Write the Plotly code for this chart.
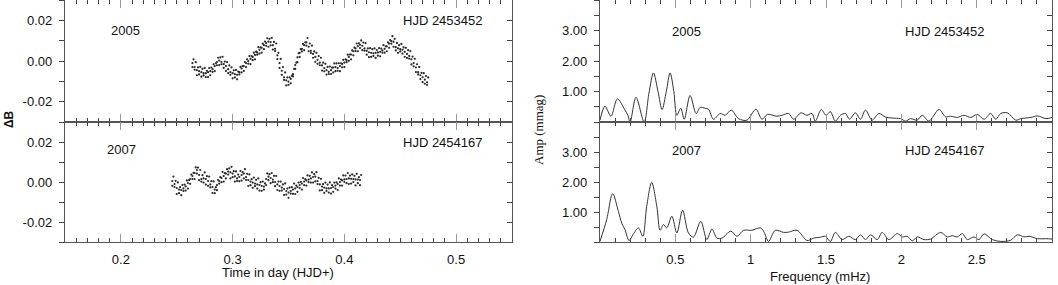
import plotly.graph_objects as go

# ---------------- data ----------------
# 2005 light curve (HJD 2453452): time (d), delta B (mag)
t_2005 = [0.264, 0.266, 0.268, 0.270, 0.272, 0.274, 0.276, 0.278, 0.280, 0.282,
          0.284, 0.286, 0.288, 0.290, 0.292, 0.294, 0.296, 0.298, 0.300, 0.302,
          0.304, 0.306, 0.308, 0.310, 0.312, 0.314, 0.316, 0.318, 0.320, 0.322,
          0.324, 0.326, 0.328, 0.330, 0.332, 0.334, 0.336, 0.338, 0.340, 0.342,
          0.344, 0.346, 0.348, 0.350, 0.352, 0.354, 0.356, 0.358, 0.360, 0.362,
          0.364, 0.366, 0.368, 0.370, 0.372, 0.374, 0.376, 0.378, 0.380, 0.382,
          0.384, 0.386, 0.388, 0.390, 0.392, 0.394, 0.396, 0.398, 0.400, 0.402,
          0.404, 0.406, 0.408, 0.410, 0.412, 0.414, 0.416, 0.418, 0.420, 0.422,
          0.424, 0.426, 0.428, 0.430, 0.432, 0.434, 0.436, 0.438, 0.440, 0.442,
          0.444, 0.446, 0.448, 0.450, 0.452, 0.454, 0.456, 0.458, 0.460, 0.462,
          0.464, 0.466, 0.468, 0.470, 0.472, 0.474]
t_2005_b = [0.265, 0.267, 0.269, 0.271, 0.273, 0.275, 0.277, 0.279, 0.281, 0.283,
            0.285, 0.287, 0.289, 0.291, 0.293, 0.295, 0.297, 0.299, 0.301, 0.303,
            0.305, 0.307, 0.309, 0.311, 0.313, 0.315, 0.317, 0.319, 0.321, 0.323,
            0.325, 0.327, 0.329, 0.331, 0.333, 0.335, 0.337, 0.339, 0.341, 0.343,
            0.345, 0.347, 0.349, 0.351, 0.353, 0.355, 0.357, 0.359, 0.361, 0.363,
            0.365, 0.367, 0.369, 0.371, 0.373, 0.375, 0.377, 0.379, 0.381, 0.383,
            0.385, 0.387, 0.389, 0.391, 0.393, 0.395, 0.397, 0.399, 0.401, 0.403,
            0.405, 0.407, 0.409, 0.411, 0.413, 0.415, 0.417, 0.419, 0.421, 0.423,
            0.425, 0.427, 0.429, 0.431, 0.433, 0.435, 0.437, 0.439, 0.441, 0.443,
            0.445, 0.447, 0.449, 0.451, 0.453, 0.455, 0.457, 0.459, 0.461, 0.463,
            0.465, 0.467, 0.469, 0.471, 0.473, 0.475]
db_2005_mid = [-0.0010, -0.0030, -0.0045, -0.0050, -0.0055, -0.0060, -0.0060, -0.0055, -0.0050, -0.0040,
               -0.0025, -0.0005, 0.0002, -0.0005, -0.0015, -0.0025, -0.0040, -0.0055, -0.0060, -0.0065,
               -0.0068, -0.0055, -0.0037, -0.0025, -0.0010, 0.0000, 0.0010, 0.0020, 0.0030, 0.0042,
               0.0055, 0.0065, 0.0078, 0.0088, 0.0095, 0.0093, 0.0078, 0.0060, 0.0028, -0.0010,
               -0.0048, -0.0080, -0.0095, -0.0101, -0.0088, -0.0065, -0.0020, 0.0018, 0.0040, 0.0060,
               0.0078, 0.0092, 0.0070, 0.0050, 0.0035, 0.0020, 0.0006, -0.0008, -0.0022, -0.0035,
               -0.0045, -0.0053, -0.0045, -0.0032, -0.0030, -0.0035, -0.0025, -0.0015, -0.0008, 0.0005,
               0.0020, 0.0032, 0.0048, 0.0062, 0.0073, 0.0080, 0.0075, 0.0062, 0.0050, 0.0043,
               0.0040, 0.0038, 0.0040, 0.0042, 0.0045, 0.0052, 0.0060, 0.0072, 0.0085, 0.0098,
               0.0095, 0.0068, 0.0062, 0.0058, 0.0055, 0.0045, 0.0035, 0.0025, 0.0008, -0.0010,
               -0.0032, -0.0055, -0.0070, -0.0080, -0.0092, -0.0105]
db_2005_up = [0.0008, -0.0006, -0.0031, -0.0029, -0.0039, -0.0034, -0.0048, -0.0035, -0.0032, -0.0016,
              -0.0011, 0.0016, 0.0018, 0.0021, -0.0003, -0.0005, -0.0022, -0.0031, -0.0046, -0.0044,
              -0.0052, -0.0029, -0.0025, -0.0005, 0.0008, 0.0024, 0.0024, 0.0041, 0.0046, 0.0068,
              0.0067, 0.0085, 0.0096, 0.0112, 0.0109, 0.0114, 0.0094, 0.0086, 0.0040, 0.0010,
              -0.0030, -0.0056, -0.0081, -0.0080, -0.0072, -0.0039, -0.0008, 0.0038, 0.0058, 0.0084,
              0.0092, 0.0113, 0.0086, 0.0076, 0.0047, 0.0040, 0.0024, 0.0016, -0.0008, -0.0014,
              -0.0029, -0.0027, -0.0033, -0.0012, -0.0012, -0.0011, -0.0011, 0.0006, 0.0008, 0.0031,
              0.0032, 0.0052, 0.0066, 0.0086, 0.0087, 0.0101, 0.0091, 0.0088, 0.0062, 0.0063,
              0.0058, 0.0062, 0.0054, 0.0063, 0.0061, 0.0078, 0.0072, 0.0092, 0.0103, 0.0122,
              0.0109, 0.0089, 0.0078, 0.0084, 0.0067, 0.0065, 0.0053, 0.0049, 0.0022, 0.0011,
              -0.0016, -0.0029, -0.0058, -0.0060, -0.0074, -0.0081]
db_2005_dn = [-0.0030, -0.0043, -0.0070, -0.0066, -0.0077, -0.0071, -0.0079, -0.0079, -0.0070, -0.0053,
              -0.0050, -0.0021, -0.0020, -0.0016, -0.0034, -0.0049, -0.0060, -0.0068, -0.0085, -0.0081,
              -0.0090, -0.0066, -0.0056, -0.0049, -0.0030, -0.0013, -0.0015, 0.0004, 0.0008, 0.0031,
              0.0036, 0.0041, 0.0058, 0.0075, 0.0070, 0.0077, 0.0056, 0.0049, 0.0009, -0.0034,
              -0.0068, -0.0093, -0.0120, -0.0117, -0.0110, -0.0076, -0.0039, -0.0006, 0.0020, 0.0047,
              0.0053, 0.0076, 0.0048, 0.0039, 0.0016, -0.0004, -0.0014, -0.0021, -0.0047, -0.0051,
              -0.0067, -0.0064, -0.0064, -0.0056, -0.0050, -0.0048, -0.0050, -0.0031, -0.0030, -0.0006,
              0.0001, 0.0008, 0.0028, 0.0049, 0.0048, 0.0064, 0.0053, 0.0051, 0.0031, 0.0019,
              0.0020, 0.0025, 0.0015, 0.0026, 0.0023, 0.0041, 0.0041, 0.0048, 0.0065, 0.0085,
              0.0070, 0.0052, 0.0040, 0.0047, 0.0036, 0.0021, 0.0015, 0.0012, -0.0017, -0.0026,
              -0.0054, -0.0066, -0.0089, -0.0104, -0.0112, -0.0118]

# 2007 light curve (HJD 2454167)
t_2007 = [0.246, 0.248, 0.250, 0.252, 0.254, 0.256, 0.258, 0.260, 0.262, 0.264,
          0.266, 0.268, 0.270, 0.272, 0.274, 0.276, 0.278, 0.280, 0.282, 0.284,
          0.286, 0.288, 0.290, 0.292, 0.294, 0.296, 0.298, 0.300, 0.302, 0.304,
          0.306, 0.308, 0.310, 0.312, 0.314, 0.316, 0.318, 0.320, 0.322, 0.324,
          0.326, 0.328, 0.330, 0.332, 0.334, 0.336, 0.338, 0.340, 0.342, 0.344,
          0.346, 0.348, 0.350, 0.352, 0.354, 0.356, 0.358, 0.360, 0.362, 0.364,
          0.366, 0.368, 0.370, 0.372, 0.374, 0.376, 0.378, 0.380, 0.382, 0.384,
          0.386, 0.388, 0.390, 0.392, 0.394, 0.396, 0.398, 0.400, 0.402, 0.404,
          0.406, 0.408, 0.410, 0.412, 0.414]
t_2007_b = [0.247, 0.249, 0.251, 0.253, 0.255, 0.257, 0.259, 0.261, 0.263, 0.265,
            0.267, 0.269, 0.271, 0.273, 0.275, 0.277, 0.279, 0.281, 0.283, 0.285,
            0.287, 0.289, 0.291, 0.293, 0.295, 0.297, 0.299, 0.301, 0.303, 0.305,
            0.307, 0.309, 0.311, 0.313, 0.315, 0.317, 0.319, 0.321, 0.323, 0.325,
            0.327, 0.329, 0.331, 0.333, 0.335, 0.337, 0.339, 0.341, 0.343, 0.345,
            0.347, 0.349, 0.351, 0.353, 0.355, 0.357, 0.359, 0.361, 0.363, 0.365,
            0.367, 0.369, 0.371, 0.373, 0.375, 0.377, 0.379, 0.381, 0.383, 0.385,
            0.387, 0.389, 0.391, 0.393, 0.395, 0.397, 0.399, 0.401, 0.403, 0.405,
            0.407, 0.409, 0.411, 0.413, 0.415]
db_2007_mid = [0.0005, -0.0010, -0.0030, -0.0038, -0.0040, -0.0032, -0.0022, -0.0005, 0.0015, 0.0030,
               0.0045, 0.0060, 0.0035, 0.0015, 0.0018, 0.0015, 0.0005, -0.0012, -0.0025, -0.0038,
               -0.0015, 0.0005, 0.0020, 0.0030, 0.0042, 0.0052, 0.0048, 0.0042, 0.0028, 0.0018,
               0.0025, 0.0035, 0.0042, 0.0025, 0.0010, 0.0002, -0.0003, -0.0008, -0.0012, -0.0015,
               -0.0020, -0.0023, 0.0015, 0.0027, 0.0020, 0.0012, 0.0000, -0.0012, -0.0020, -0.0028,
               -0.0035, -0.0045, -0.0053, -0.0045, -0.0038, -0.0032, -0.0025, -0.0015, -0.0008, 0.0002,
               0.0008, 0.0012, 0.0018, 0.0025, 0.0027, 0.0005, -0.0012, -0.0023, -0.0028, -0.0032,
               -0.0032, -0.0030, -0.0025, -0.0018, -0.0010, 0.0000, 0.0008, 0.0013, 0.0015, 0.0018,
               0.0016, 0.0015, 0.0013, 0.0012, 0.0010]
db_2007_up = [0.0027, 0.0006, -0.0002, -0.0026, -0.0015, -0.0013, 0.0008, 0.0009, 0.0037, 0.0046,
              0.0073, 0.0072, 0.0060, 0.0034, 0.0048, 0.0029, 0.0027, 0.0004, 0.0003, -0.0026,
              0.0010, 0.0024, 0.0050, 0.0044, 0.0064, 0.0068, 0.0076, 0.0054, 0.0053, 0.0037,
              0.0055, 0.0049, 0.0064, 0.0041, 0.0038, 0.0014, 0.0022, 0.0011, 0.0018, -0.0001,
              0.0002, -0.0007, 0.0043, 0.0039, 0.0045, 0.0031, 0.0030, 0.0002, 0.0002, -0.0012,
              -0.0007, -0.0033, -0.0028, -0.0026, -0.0008, -0.0018, -0.0003, 0.0001, 0.0020, 0.0014,
              0.0033, 0.0031, 0.0048, 0.0039, 0.0049, 0.0021, 0.0016, -0.0011, -0.0003, -0.0013,
              -0.0002, -0.0016, -0.0003, -0.0002, 0.0018, 0.0012, 0.0033, 0.0032, 0.0045, 0.0032,
              0.0038, 0.0031, 0.0041, 0.0024, 0.0035]
db_2007_dn = [-0.0019, -0.0025, -0.0060, -0.0056, -0.0066, -0.0045, -0.0043, -0.0033, -0.0009, 0.0015,
              0.0015, 0.0042, 0.0009, 0.0002, -0.0003, -0.0013, -0.0019, -0.0027, -0.0055, -0.0056,
              -0.0041, -0.0008, -0.0001, 0.0002, 0.0018, 0.0037, 0.0018, 0.0024, 0.0002, 0.0005,
              0.0004, 0.0007, 0.0018, 0.0010, -0.0020, -0.0016, -0.0029, -0.0021, -0.0033, -0.0043,
              -0.0044, -0.0038, -0.0015, 0.0009, -0.0006, -0.0001, -0.0021, -0.0040, -0.0044, -0.0043,
              -0.0065, -0.0063, -0.0079, -0.0058, -0.0059, -0.0060, -0.0049, -0.0030, -0.0038, -0.0016,
              -0.0018, -0.0001, -0.0003, -0.0003, 0.0003, -0.0010, -0.0042, -0.0041, -0.0054, -0.0045,
              -0.0053, -0.0058, -0.0049, -0.0033, -0.0040, -0.0018, -0.0018, 0.0000, -0.0006, -0.0010,
              -0.0008, 0.0000, -0.0017, -0.0006, -0.0016]

# amplitude spectra: frequency (mHz), amplitude (mmag)
f_2005 = [0, 0.033, 0.073, 0.115, 0.166, 0.185, 0.2, 0.239, 0.293, 0.325,
          0.355, 0.385, 0.412, 0.44, 0.465, 0.49, 0.51, 0.536, 0.559, 0.598,
          0.638, 0.665, 0.698, 0.72, 0.753, 0.798, 0.831, 0.871, 0.92, 0.975,
          1.035, 1.075, 1.112, 1.174, 1.208, 1.252, 1.285, 1.334, 1.374, 1.407,
          1.429, 1.469, 1.5, 1.529, 1.562, 1.596, 1.629, 1.656, 1.695, 1.729,
          1.762, 1.806, 1.851, 1.895, 1.939, 1.995, 2.028, 2.061, 2.105, 2.139,
          2.183, 2.25, 2.294, 2.327, 2.371, 2.416, 2.46, 2.504, 2.549, 2.593,
          2.626, 2.66, 2.704, 2.76, 2.793, 2.86, 2.904, 2.96, 3.0]
amp_2005 = [0.06, 0.52, 0.19, 0.76, 0.39, 0.22, 0.0, 0.81, 0.0, 0.95,
            1.61, 1.0, 0.41, 1.0, 1.61, 1.0, 0.22, 0.45, 0.09, 0.87,
            0.28, 0.48, 0.45, 0.42, 0.09, 0.28, 0.22, 0.39, 0.11, 0.06,
            0.42, 0.09, 0.25, 0.19, 0.22, 0.28, 0.09, 0.30, 0.22, 0.28,
            0.03, 0.41, 0.22, 0.34, 0.03, 0.22, 0.28, 0.09, 0.30, 0.09,
            0.39, 0.06, 0.28, 0.16, 0.13, 0.11, 0.03, 0.11, 0.06, 0.22,
            0.03, 0.41, 0.17, 0.19, 0.15, 0.22, 0.15, 0.25, 0.09, 0.28,
            0.09, 0.28, 0.30, 0.06, 0.11, 0.15, 0.20, 0.11, 0.15]
f_2007 = [0, 0.044, 0.084, 0.122, 0.144, 0.166, 0.193, 0.222, 0.255, 0.284,
          0.31, 0.343, 0.377, 0.399, 0.421, 0.443, 0.477, 0.51, 0.548, 0.587,
          0.62, 0.669, 0.709, 0.743, 0.776, 0.809, 0.869, 0.909, 0.953, 1.008,
          1.064, 1.086, 1.119, 1.163, 1.219, 1.252, 1.308, 1.374, 1.419, 1.463,
          1.496, 1.529, 1.562, 1.607, 1.651, 1.695, 1.729, 1.762, 1.795, 1.84,
          1.873, 1.917, 1.973, 2.006, 2.039, 2.073, 2.106, 2.15, 2.194, 2.261,
          2.305, 2.338, 2.371, 2.405, 2.438, 2.482, 2.515, 2.549, 2.604, 2.66,
          2.726, 2.77, 2.815, 2.848, 2.904, 2.959, 3.0]
amp_2007 = [0.02, 0.74, 1.61, 1.02, 0.63, 0.41, 0.05, 0.27, 0.47, 0.19,
            1.19, 1.99, 1.19, 0.39, 0.58, 0.47, 0.86, 0.30, 1.06, 0.30,
            0.16, 0.69, 0.08, 0.43, 0.13, 0.13, 0.36, 0.19, 0.39, 0.39,
            0.47, 0.36, 0.02, 0.39, 0.32, 0.33, 0.39, 0.05, 0.13, 0.16,
            0.19, 0.02, 0.32, 0.08, 0.19, 0.08, 0.24, 0.08, 0.24, 0.08,
            0.32, 0.08, 0.28, 0.17, 0.19, 0.04, 0.17, 0.08, 0.10, 0.32,
            0.17, 0.21, 0.17, 0.28, 0.08, 0.17, 0.08, 0.27, 0.08, 0.02,
            0.06, 0.24, 0.17, 0.19, 0.11, 0.11, 0.10]

# tick labels
lc_xticks = [0.2, 0.3, 0.4, 0.5]
lc_xtext = ["0.2", "0.3", "0.4", "0.5"]
lc_yticks = [-0.02, 0.0, 0.02]
lc_ytext = ["-0.02", "0.00", "0.02"]
sp_xticks = [0.5, 1, 1.5, 2, 2.5]
sp_xtext = ["0.5", "1", "1.5", "2", "2.5"]
sp_yticks = [1, 2, 3]
sp_ytext = ["1.00", "2.00", "3.00"]

# ---------------- figure ----------------
W, H = 1058, 285
SANS = "Liberation Sans, Arial, Helvetica, sans-serif"
SERIF = "Liberation Serif, Times New Roman, serif"
LINE = "#555555"
TICK = "#444444"
MAJ = "#999999"

def px(x):
    return x / W

def py(y):
    return 1 - y / H

XL = [px(65), px(512)]
XR = [px(600), px(1052)]
YT = [py(122), 1.0]
YB = [py(242), py(122)]

fig = go.Figure()
mk = dict(size=2.2, color="#2a2a2a")
for tt, yy in [(t_2005, db_2005_mid), (t_2005_b, db_2005_up), (t_2005, db_2005_dn)]:
    fig.add_trace(go.Scatter(x=tt, y=yy, mode="markers", marker=mk, xaxis="x", yaxis="y", showlegend=False))
for tt, yy in [(t_2007, db_2007_mid), (t_2007_b, db_2007_up), (t_2007, db_2007_dn)]:
    fig.add_trace(go.Scatter(x=tt, y=yy, mode="markers", marker=mk, xaxis="x2", yaxis="y2", showlegend=False))
ln = dict(color="#333333", width=1, shape="spline", smoothing=0.9)
fig.add_trace(go.Scatter(x=f_2005, y=amp_2005, mode="lines", line=ln, xaxis="x3", yaxis="y3", showlegend=False))
fig.add_trace(go.Scatter(x=f_2007, y=amp_2007, mode="lines", line=ln, xaxis="x4", yaxis="y4", showlegend=False))
# empty traces so the right-hand tick axes are drawn
for ax_x, ax_y in [("x", "y5"), ("x2", "y6"), ("x3", "y7"), ("x4", "y8")]:
    fig.add_trace(go.Scatter(x=[], y=[], xaxis=ax_x, yaxis=ax_y, showlegend=False))

tickfont = dict(family=SANS, size=13, color="#111111")

def xax(domain, anchor, rng, tv, tt, minor_dt, labels):
    return dict(domain=domain, anchor=anchor, range=rng, showgrid=False, zeroline=False,
                showline=True, linecolor=LINE, linewidth=1.3, mirror="ticks",
                ticks="inside", ticklen=8, tickwidth=1, tickcolor=MAJ,
                tickmode="array", tickvals=tv, ticktext=tt, showticklabels=labels,
                tickfont=tickfont, ticklabelstandoff=5, automargin=False,
                minor=dict(dtick=minor_dt, tick0=0, ticks="inside", ticklen=4,
                           tickcolor=TICK, tickwidth=1))

def yax(domain, anchor, rng, tv, tt, minor_dt):
    return dict(domain=domain, anchor=anchor, range=rng, showgrid=False, zeroline=False,
                showline=True, linecolor=LINE, linewidth=1.3, mirror=True,
                ticks="outside", ticklen=5, tickwidth=1, tickcolor=TICK,
                tickmode="array", tickvals=tv, ticktext=tt, tickfont=tickfont,
                ticklabelstandoff=4, automargin=False,
                minor=dict(dtick=minor_dt, tick0=0, ticks="outside", ticklen=5,
                           tickcolor=TICK, tickwidth=1))

def yright(over, anchor, rng, tv, minor_dt):
    return dict(overlaying=over, anchor=anchor, side="right", range=rng, showgrid=False,
                zeroline=False, showline=False, ticks="inside", ticklen=5, tickwidth=1,
                tickcolor=TICK, tickmode="array", tickvals=tv, showticklabels=False,
                automargin=False,
                minor=dict(dtick=minor_dt, tick0=0, ticks="inside", ticklen=5,
                           tickcolor=TICK, tickwidth=1))

LC_R = [-0.03, 0.03]
SP_R = [0, 4]

annots = []
def ann(text, x, y, xanchor="center", angle=0, family=SANS, size=13):
    annots.append(dict(text=text, x=x, y=y, xref="paper", yref="paper", xanchor=xanchor,
                       yanchor="middle", showarrow=False, textangle=angle,
                       font=dict(family=family, size=size, color="#111111")))

ann("2005", px(125.5), py(30))
ann("HJD 2453452", px(485), py(20.5), xanchor="right")
ann("2007", px(121.5), py(149.5))
ann("HJD 2454167", px(485), py(142), xanchor="right")
ann("2005", px(686.5), py(31))
ann("HJD 2453452", px(987), py(31), xanchor="right")
ann("2007", px(686.5), py(150.5))
ann("HJD 2454167", px(987), py(150.5), xanchor="right")
ann("Time in day (HJD+)", px(278), py(272))
ann("Frequency (mHz)", px(820), py(276.5))
ann("<b>ΔB</b>", px(0), py(119), xanchor="left", angle=-90, size=12)
ann("Amp (mmag)", px(538), py(130), angle=-90, family=SERIF)

fig.update_layout(
    width=W, height=H, margin=dict(l=0, r=0, t=0, b=0, autoexpand=False),
    paper_bgcolor="white", plot_bgcolor="white", template="none",
    xaxis=xax(XL, "y", [0.15, 0.55], lc_xticks, lc_xtext, 0.01, False),
    yaxis=yax(YT, "x", LC_R, lc_yticks, lc_ytext, 0.01),
    xaxis2=xax(XL, "y2", [0.15, 0.55], lc_xticks, lc_xtext, 0.01, True),
    yaxis2=yax(YB, "x2", LC_R, lc_yticks, lc_ytext, 0.01),
    xaxis3=xax(XR, "y3", [0, 3], sp_xticks, sp_xtext, 0.1, False),
    yaxis3=yax(YT, "x3", SP_R, sp_yticks, sp_ytext, 0.5),
    xaxis4=xax(XR, "y4", [0, 3], sp_xticks, sp_xtext, 0.1, True),
    yaxis4=yax(YB, "x4", SP_R, sp_yticks, sp_ytext, 0.5),
    yaxis5=yright("y", "x", LC_R, lc_yticks, 0.01),
    yaxis6=yright("y2", "x2", LC_R, lc_yticks, 0.01),
    yaxis7=yright("y3", "x3", SP_R, sp_yticks, 0.5),
    yaxis8=yright("y4", "x4", SP_R, sp_yticks, 0.5),
    annotations=annots,
)

fig.write_html("out.html", config={"displayModeBar": False},
               post_script="document.body.style.margin='0';document.body.style.overflow='hidden';")
